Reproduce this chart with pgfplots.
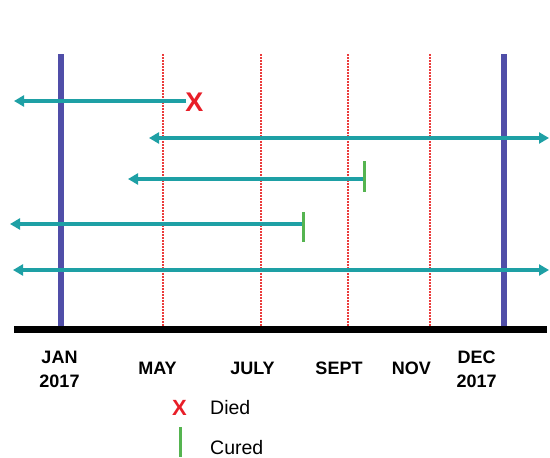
\documentclass[border=0pt]{standalone}
\usepackage{pgfplots}
\pgfplotsset{compat=1.18}
\usepackage{fontspec}
\setmainfont{Liberation Sans}
\usetikzlibrary{arrows.meta}
\definecolor{tealc}{RGB}{30,160,165}
\definecolor{bluec}{RGB}{80,78,168}
\definecolor{redd}{RGB}{235,60,60}
\definecolor{greenc}{RGB}{85,180,80}
\definecolor{redx}{RGB}{232,30,40}
\begin{document}
\begin{tikzpicture}
\begin{axis}[
  scale only axis, width=550pt, height=458pt,
  xmin=0, xmax=550, ymin=0, ymax=458, y dir=reverse,
  hide axis, clip=false,
  arr/.style={tealc, line width=3.2pt, -{Triangle[length=10pt,width=11pt]}},
  arrb/.style={tealc, line width=3.2pt, {Triangle[length=10pt,width=11pt]}-{Triangle[length=10pt,width=11pt]}},
]
% dotted month lines
\addplot[redd, line width=1.7pt, dash pattern=on 1.6pt off 1.4pt] coordinates {(163,54) (163,330)};
\addplot[redd, line width=1.7pt, dash pattern=on 1.6pt off 1.4pt] coordinates {(261,54) (261,330)};
\addplot[redd, line width=1.7pt, dash pattern=on 1.6pt off 1.4pt] coordinates {(348,54) (348,330)};
\addplot[redd, line width=1.7pt, dash pattern=on 1.6pt off 1.4pt] coordinates {(430,54) (430,330)};
% year boundary lines
\addplot[bluec, line width=6pt] coordinates {(61,54) (61,332)};
\addplot[bluec, line width=6pt] coordinates {(504,54) (504,332)};
% patient timelines
\addplot[arr] coordinates {(186,101) (14,101)};
\addplot[arrb] coordinates {(149,138) (549,138)};
\addplot[arr] coordinates {(364,179) (128,179)};
\addplot[arr] coordinates {(303,224) (10,224)};
\addplot[arrb] coordinates {(13,270) (549,270)};
% outcomes
\addplot[redx, only marks, mark=text, text mark as node=true,
  text mark={\fontsize{27}{27}\selectfont\bfseries X},
  text mark style={inner sep=0pt, anchor=center}] coordinates {(194.5,102)};
\addplot[greenc, line width=3pt] coordinates {(364,161) (364,192)};
\addplot[greenc, line width=3pt] coordinates {(303,212) (303,242)};
% baseline
\addplot[black, line width=7pt] coordinates {(14,329.5) (547,329.5)};
% month labels
\node[font=\fontsize{18}{24}\selectfont\bfseries, align=center] at (axis cs:59.5,369) {JAN\\2017};
\node[font=\fontsize{18}{24}\selectfont\bfseries] at (axis cs:157.5,368) {MAY};
\node[font=\fontsize{18}{24}\selectfont\bfseries] at (axis cs:252.5,368) {JULY};
\node[font=\fontsize{18}{24}\selectfont\bfseries] at (axis cs:339,368) {SEPT};
\node[font=\fontsize{18}{24}\selectfont\bfseries] at (axis cs:411.5,368) {NOV};
\node[font=\fontsize{18}{24}\selectfont\bfseries, align=center] at (axis cs:476.7,369) {DEC\\2017};
% legend
\addplot[redx, only marks, mark=text, text mark as node=true,
  text mark={\fontsize{22}{22}\selectfont\bfseries X},
  text mark style={inner sep=0pt, anchor=center}] coordinates {(179.5,408)};
\addplot[greenc, line width=3pt] coordinates {(180,427) (180,457)};
\node[font=\fontsize{19.5}{22}\selectfont, anchor=west, inner sep=0pt] at (axis cs:210,407.5) {Died};
\node[font=\fontsize{19.5}{22}\selectfont, anchor=west, inner sep=0pt] at (axis cs:210,447.5) {Cured};
\coordinate (BBa) at (rel axis cs:0,0);
\coordinate (BBb) at (rel axis cs:1,1);
\end{axis}
\pgfresetboundingbox
\path (BBa) rectangle (BBb);
\end{tikzpicture}
\end{document}
